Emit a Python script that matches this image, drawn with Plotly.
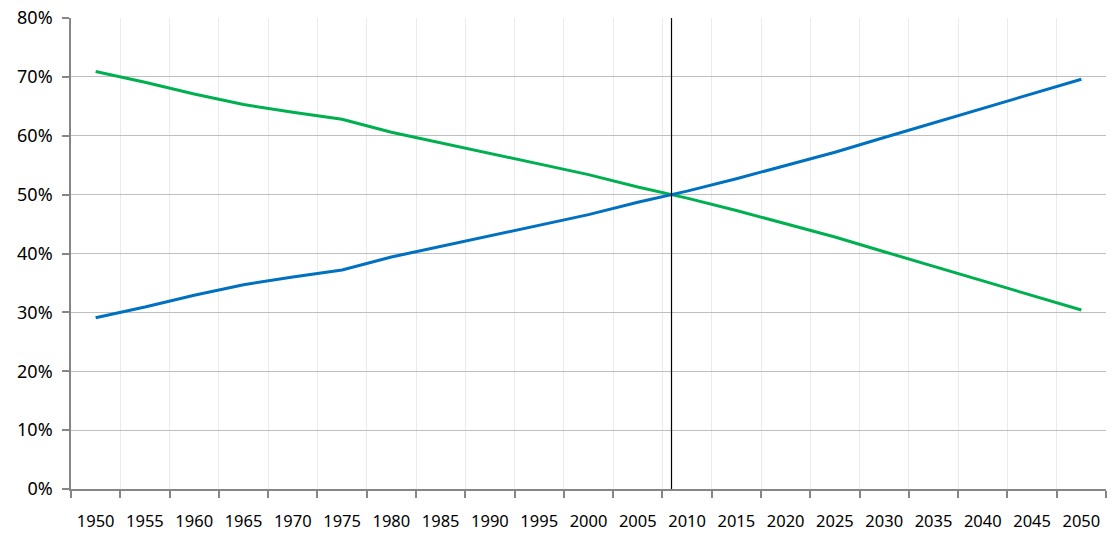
import plotly.graph_objects as go

years = [1950, 1955, 1960, 1965, 1970, 1975, 1980, 1985, 1990, 1995, 2000,
         2005, 2010, 2015, 2020, 2025, 2030, 2035, 2040, 2045, 2050]
urban = [29.1, 30.9, 32.9, 34.7, 36.0, 37.2, 39.4, 41.2, 43.0, 44.8, 46.6,
         48.7, 50.6, 52.7, 54.9, 57.2, 59.7, 62.2, 64.7, 67.2, 69.6]
rural = [70.9, 69.1, 67.1, 65.3, 64.0, 62.8, 60.6, 58.8, 57.0, 55.2, 53.4,
         51.3, 49.4, 47.3, 45.1, 42.8, 40.3, 37.8, 35.3, 32.8, 30.4]
tick_labels = [str(y) for y in years]
y_ticks = [0, 10, 20, 30, 40, 50, 60, 70, 80]

# year where the two series cross
cross = None
for i in range(len(years) - 1):
    d0 = urban[i] - rural[i]
    d1 = urban[i + 1] - rural[i + 1]
    if d0 < 0 <= d1:
        cross = years[i] + (years[i + 1] - years[i]) * (-d0) / (d1 - d0)
        break

fig = go.Figure()
fig.add_trace(go.Scatter(x=years, y=[v / 100 for v in rural], mode="lines",
                         line=dict(color="#00B050", width=3), name="Rural"))
fig.add_trace(go.Scatter(x=years, y=[v / 100 for v in urban], mode="lines",
                         line=dict(color="#0070C0", width=3), name="Urban"))
fig.add_shape(type="line", xref="x", yref="y", x0=cross, x1=cross, y0=0, y1=0.8,
              line=dict(color="black", width=1.2), layer="above")

fig.update_layout(
    width=1118, height=541,
    margin=dict(l=71, r=12, t=18, b=52, autoexpand=False),
    paper_bgcolor="white", plot_bgcolor="white",
    showlegend=False,
    font=dict(family="Noto Sans", size=16, color="#000000"),
    xaxis=dict(
        range=[1947.5, 2052.5], automargin=False,
        tickmode="array", tickvals=years, ticktext=tick_labels,
        ticks="", showgrid=False, zeroline=False,
        showline=True, linecolor="#868686", linewidth=1.5,
        ticklabelstandoff=16,
        tickfont=dict(size=16.5),
        minor=dict(tick0=1947.5, dtick=5, showgrid=True, gridcolor="#EBEBEB",
                   gridwidth=1, ticks="outside", ticklen=7, tickcolor="#868686",
                   tickwidth=1.5),
    ),
    yaxis=dict(
        range=[0, 0.8], automargin=False,
        tickmode="array", tickvals=[v / 100 for v in y_ticks],
        ticktext=[f"{v}%" for v in y_ticks],
        showgrid=True, gridcolor="#BFBFBF", gridwidth=1,
        zeroline=False, showline=True, linecolor="#868686", linewidth=1.5,
        ticks="outside", ticklen=7, tickcolor="#868686", tickwidth=1.5,
        ticklabelstandoff=6,
        tickfont=dict(size=18),
    ),
)
fig.write_html("out.html", config={"displayModeBar": False},
               post_script="document.body.style.margin='0';")
